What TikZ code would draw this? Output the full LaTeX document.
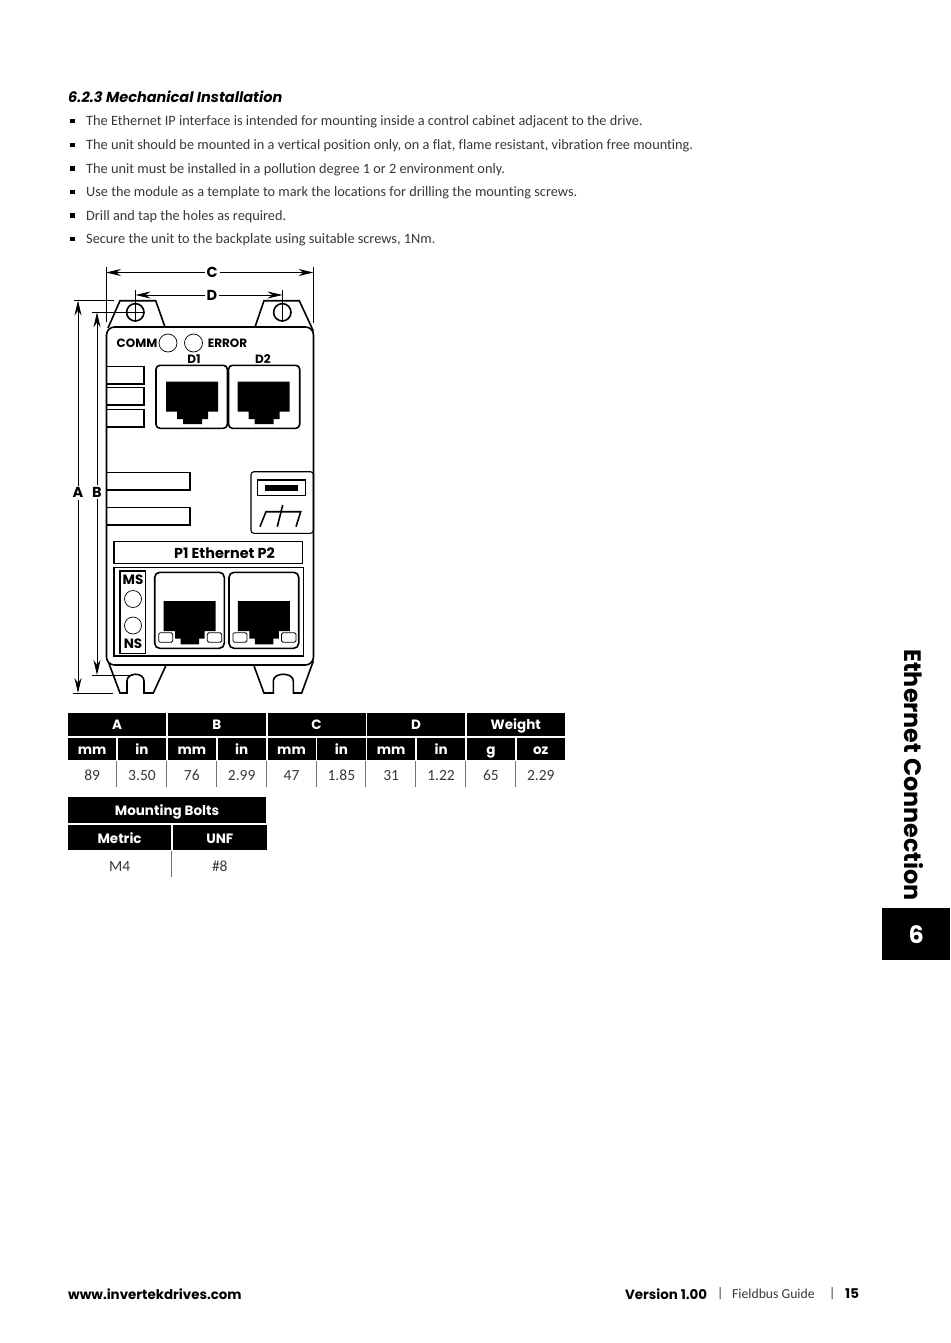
\documentclass[tikz,border=0pt]{standalone}
\usepackage{fontspec}
\setmainfont{Carlito}[Ligatures=NoCommon]
\newfontfamily\headfont{Poppins}
\usepackage{xcolor}
\usetikzlibrary{matrix,positioning,arrows.meta}
\definecolor{bodytext}{gray}{0.22}
\definecolor{rulegray}{gray}{0.45}
\tikzset{
    bodyline/.style={line width=1.6pt, draw=black},
    thinline/.style={line width=1.1pt, draw=black},
    dimline/.style={line width=0.9pt, draw=black},
    dimarrow/.style={dimline, {Stealth[length=15pt,width=7pt]}-{Stealth[length=15pt,width=7pt]}},
    dimlabel/.style={fill=white, inner sep=2pt, font=\headfont\bfseries\fontsize{14.5}{14}\selectfont},
    panellabel/.style={inner sep=0pt, font=\headfont\bfseries\fontsize{12}{12}\selectfont},
    bullettext/.style={anchor=west, inner sep=0pt, text=bodytext, yshift=-1.2pt, font=\fontsize{14.3}{15}\selectfont},
    bulletmark/.style={fill=black, minimum size=4.5pt, inner sep=0pt},
    footbold/.style={anchor=west, inner sep=0pt, font=\headfont\bfseries\fontsize{13.4}{14}\selectfont},
    footlight/.style={anchor=west, inner sep=0pt, text=bodytext, font=\fontsize{13.7}{14}\selectfont},
    tabhead/.style={fill=black, text=white, draw=white, line width=0.8pt, font=\headfont\bfseries\fontsize{13.5}{13}\selectfont},
    tabcell/.style={text=bodytext, font=\fontsize{15.5}{15}\selectfont},
    tabrule/.style={line width=0.9pt, draw=rulegray},
    jacktop/.pic={
        \fill (0,0) -- (52,0) -- (52,30) -- (42,30) -- (42,37.5) -- (36,37.5) -- (36,42.5)
            -- (17,42.5) -- (17,37.5) -- (11,37.5) -- (11,30) -- (0,30) -- cycle;
    },
    jackled/.pic={
        \fill (0,0) -- (52,0) -- (52,30) -- (41,30) -- (41,37.5) -- (35.5,37.5) -- (35.5,43.3)
            -- (17,43.3) -- (17,37.5) -- (11.5,37.5) -- (11.5,30) -- (0,30) -- cycle;
        \draw[thinline, fill=white, rounded corners=1.5pt, line width=0.8pt] (-5,31.7) rectangle (9,41.3);
        \draw[thinline, fill=white, rounded corners=1.5pt, line width=0.8pt] (43.6,31.7) rectangle (58,41.3);
    },
}
\begin{document}
\begin{tikzpicture}[x=1pt, y=-1pt]
    \useasboundingbox[fill=white] (0,0) rectangle (950,1343);

    % heading and list
    \node[anchor=west, inner sep=0pt, font=\headfont\bfseries\itshape\fontsize{14.5}{15}\selectfont] (title) at (68,97) {6.2.3 Mechanical Installation};
    \node[bulletmark] (b1) at (72.5,121) {};
    \node[bullettext] (t1) at (86,121) {The Ethernet IP interface is intended for mounting inside a control cabinet adjacent to the drive.};
    \node[bulletmark] (b2) at (72.5,145) {};
    \node[bullettext] (t2) at (86,145) {The unit should be mounted in a vertical position only, on a flat, flame resistant, vibration free mounting.};
    \node[bulletmark] (b3) at (72.5,168.5) {};
    \node[bullettext] (t3) at (86,168.5) {The unit must be installed in a pollution degree 1 or 2 environment only.};
    \node[bulletmark] (b4) at (72.5,192) {};
    \node[bullettext] (t4) at (86,192) {Use the module as a template to mark the locations for drilling the mounting screws.};
    \node[bulletmark] (b5) at (72.5,215.5) {};
    \node[bullettext] (t5) at (86,215.5) {Drill and tap the holes as required.};
    \node[bulletmark] (b6) at (72.5,239) {};
    \node[bullettext] (t6) at (86,239) {Secure the unit to the backplate using suitable screws, 1Nm.};

    % lugs, body
    \draw[bodyline] (108,328) -- (120,300.7) -- (155.7,300.7) -- (165,327);
    \draw[bodyline] (255,327) -- (264,300.7) -- (299.3,300.7) -- (313.3,331);
    \draw[bodyline] (108,661) -- (120,693) -- (127,693) -- (127,681) .. controls (127,672) and (144,672) .. (144,681)
        -- (144,693) -- (153.3,693) -- (165.7,666);
    \draw[bodyline] (254,666) -- (264,693) -- (273.3,693) -- (273.3,681) .. controls (273.3,672) and (293.3,672) .. (293.3,681)
        -- (293.3,693) -- (301.7,693) -- (313.3,661);
    \draw[bodyline, fill=white, rounded corners=8pt] (106.5,327) rectangle (313.5,665);
    \draw[bodyline] (135.3,312.3) circle (8.7);
    \draw[bodyline] (282.3,312.3) circle (8.7);

    % dimensions
    \coordinate (cl) at (106,272.5);
    \coordinate (cr) at (313.5,272.5);
    \coordinate (dl) at (135.5,295);
    \coordinate (dr) at (282.5,295);
    \coordinate (at) at (78,300.5);
    \coordinate (ab) at (78,693);
    \coordinate (bt) at (97,312.3);
    \coordinate (bb) at (97,675);
    \draw[dimline] (106,267) -- (106,322);
    \draw[dimline] (313.5,267) -- (313.5,323);
    \draw[dimline] (135.5,290) -- (135.5,322);
    \draw[dimline] (282.5,290) -- (282.5,322);
    \draw[dimline] (74,300.5) -- (114,300.5);
    \draw[dimline] (92,312.3) -- (145,312.3);
    \draw[dimline] (72.5,693) -- (113,693);
    \draw[dimline] (92,675) -- (133,675);
    \draw[dimarrow] (cl) -- node[dimlabel, pos=0.511] (clabel) {C} (cr);
    \draw[dimarrow] (dl) -- node[dimlabel, pos=0.52] (dlabel) {D} (dr);
    \draw[dimarrow] (at) -- node[dimlabel, pos=0.4895] (alabel) {A} (ab);
    \draw[dimarrow] (bt) -- node[dimlabel, pos=0.4955] (blabel) {B} (bb);

    % top of panel
    \node[panellabel] (comm) at (137,343) {COMM};
    \draw[thinline, line width=0.7pt] (168,343) circle (9);
    \draw[thinline, line width=0.7pt] (193.5,343) circle (9);
    \node[panellabel] (error) at (227.5,343) {ERROR};
    \node[panellabel] (d1) at (194,359.5) {D1};
    \node[panellabel] (d2) at (263,359.5) {D2};
    \draw[thinline] (106.5,366.7) rectangle (144,384);
    \draw[thinline] (106.5,387.5) rectangle (144,405);
    \draw[thinline] (106.5,409.5) rectangle (144,427);
    \draw[thinline] (106.5,472.3) rectangle (190,490);
    \draw[thinline] (106.5,507.5) rectangle (190,525);
    \draw[bodyline, rounded corners=4pt] (156,365.3) rectangle (227.3,428.3);
    \draw[bodyline, rounded corners=4pt] (228.5,365.3) rectangle (299.7,428.3);
    \pic at (166,381.7) {jacktop};
    \pic at (237.7,381.7) {jacktop};

    % earth block
    \draw[thinline, rounded corners=3pt] (251,471.7) rectangle (313.5,533.3);
    \draw[thinline] (257.7,480) rectangle (305.7,495.7);
    \fill (264.7,485.3) rectangle (297.7,490.7);
    \draw[thinline, line width=1.6pt] (260,526.7) -- (266,511.7) -- (300.7,511.7) -- (296,526.7);
    \draw[thinline, line width=1.6pt] (282.7,505) -- (277.3,526.7);

    % lower panel
    \draw[thinline] (114,541.7) rectangle (302.7,563.3);
    \node[inner sep=0pt, font=\headfont\bfseries\fontsize{14.4}{14}\selectfont] (ether) at (224.5,553) {P1 Ethernet P2};
    \draw[thinline] (114,567.7) rectangle (303.3,656);
    \draw[thinline] (120,571) rectangle (145.7,653.3);
    \node[panellabel, font=\headfont\bfseries\fontsize{13.5}{14}\selectfont] (ms) at (133,580) {MS};
    \draw[thinline, line width=0.7pt] (133,599) circle (8.5);
    \draw[thinline, line width=0.7pt] (133,625.5) circle (8.5);
    \node[panellabel, font=\headfont\bfseries\fontsize{13.5}{14}\selectfont] (ns) at (133,644) {NS};
    \draw[bodyline, rounded corners=5pt] (154.7,572.3) rectangle (224.3,648.3);
    \draw[bodyline, rounded corners=5pt] (229,572.3) rectangle (298.7,648.3);
    \pic at (163.7,601) {jackled};
    \pic at (237.9,601) {jackled};

    % size tables
    \matrix[matrix of nodes, anchor=north west, inner sep=0pt, outer sep=0pt,
        nodes={tabhead, inner sep=0pt, outer sep=0pt, minimum width=98.9pt, minimum height=24pt, text height=10.5pt, text depth=0pt}] (dimhead) at (67.2,712)
        {
            A & B & C & D & Weight \\
        };
    \matrix[matrix of nodes, below=0pt of dimhead, inner sep=0pt, outer sep=0pt,
        nodes={inner sep=0pt, outer sep=0pt, minimum width=49.05pt, text depth=0pt},
        row 1/.style={nodes={tabhead, minimum height=23.5pt, text height=11pt}},
        row 2/.style={nodes={tabcell, minimum height=26pt, text height=12pt}}] (dimbody)
        {
            mm & in & mm & in & mm & in & mm & in & g & oz \\
            89 & 3.50 & 76 & 2.99 & 47 & 1.85 & 31 & 1.22 & 65 & 2.29 \\
        };
    \foreach \c in {1,...,9}
        \draw[tabrule, xshift=0.4pt] (dimbody-2-\c.north east) -- (dimbody-2-\c.south east);

    \node[tabhead, anchor=north west, inner sep=0pt, outer sep=0pt, minimum width=199.6pt, minimum height=27.5pt, text height=11pt, text depth=0pt] (bolthead) at (67.2,796) {Mounting Bolts};
    \matrix[matrix of nodes, anchor=north west, inner sep=0pt, outer sep=0pt, column sep=0pt,
        nodes={inner sep=0pt, outer sep=0pt, text depth=0pt},
        column 1/.style={nodes={minimum width=104pt}},
        column 2/.style={nodes={minimum width=94.8pt}},
        row 1/.style={nodes={tabhead, minimum height=26.5pt, text height=12pt}},
        row 2/.style={nodes={tabcell, minimum height=26pt, text height=15pt}}] (boltbody) at (bolthead.south west)
        {
            Metric & UNF \\
            M4 & \#8 \\
        };
    \draw[tabrule, xshift=0.4pt] (boltbody-2-1.north east) -- (boltbody-2-1.south east);

    % chapter tab
    \node[rotate=-90, inner sep=0pt, font=\headfont\bfseries\fontsize{23.8}{24}\selectfont] (chapter) at (914,775) {Ethernet Connection};
    \node[fill=black, text=white, anchor=north west, inner sep=0pt, minimum width=68pt, minimum height=52pt, font=\headfont\bfseries\fontsize{24}{24}\selectfont] (chapnum) at (882,908) {6};

    % footer
    \node[footbold] (web) at (68,1294) {www.invertekdrives.com};
    \node[footbold] (ver) at (625,1294) {Version 1.00};
    \node[footlight] (sep1) at (717,1294) {|};
    \node[footlight] (guide) at (732,1294) {Fieldbus Guide};
    \node[footlight] (sep2) at (829,1294) {|};
    \node[footbold] (page) at (845,1294) {15};
\end{tikzpicture}
\end{document}
